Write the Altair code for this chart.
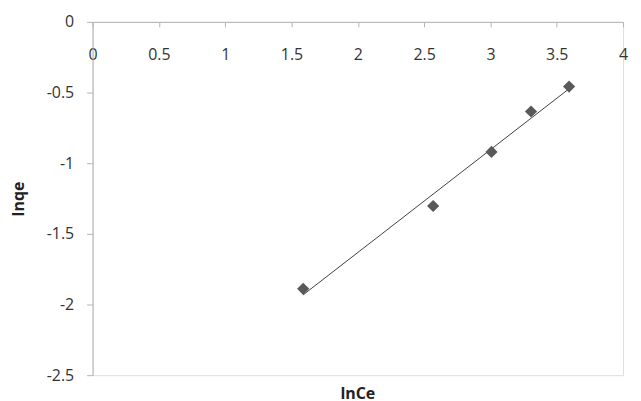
import altair as alt
import pandas as pd

lnCe = [1.588, 2.568, 3.008, 3.306, 3.593]
lnqe = [-1.889, -1.303, -0.920, -0.634, -0.458]

df = pd.DataFrame({"lnCe": lnCe, "lnqe": lnqe})

FONT = "Open Sans"
AX = "#b3b3b3"
W, H = 533, 355

xscale = alt.Scale(domain=[0, 4], nice=False, zero=False)
yscale = alt.Scale(domain=[-2.5, 0], nice=False, zero=False)

xaxis = alt.Axis(
    orient="bottom", offset=-H, values=[0, 0.5, 1, 1.5, 2, 2.5, 3, 3.5, 4],
    labelExpr="datum.value", grid=False, domainColor=AX, tickColor=AX,
    tickSize=5, labelPadding=20, labelFont=FONT, labelFontSize=16,
    labelColor="#333333", title=None, labelFlush=False,
)
yaxis = alt.Axis(
    values=[-2.5, -2, -1.5, -1, -0.5, 0], labelExpr="datum.value", grid=False,
    domainColor=AX, tickColor=AX, tickSize=6, labelPadding=13,
    labelFont=FONT, labelFontSize=16, labelColor="#333333",
    title="lnqe", titleFont=FONT, titleFontSize=16, titleFontWeight="bold",
    titleColor="#222222", titlePadding=20,
)

points = alt.Chart(df).mark_point(
    shape="diamond", filled=True, size=150, color="#595959", opacity=1
).encode(
    x=alt.X("lnCe:Q", scale=xscale, axis=xaxis),
    y=alt.Y("lnqe:Q", scale=yscale, axis=yaxis),
)

trend = alt.Chart(df).transform_regression("lnCe", "lnqe").mark_line(
    color="#404040", strokeWidth=1
).encode(
    x=alt.X("lnCe:Q", scale=xscale),
    y=alt.Y("lnqe:Q", scale=yscale),
)

chart = alt.layer(trend, points).properties(
    width=W, height=H,
    title=alt.TitleParams(
        "lnCe", orient="bottom", anchor="middle", offset=3,
        font=FONT, fontSize=16, fontWeight="bold", color="#222222",
    ),
    autosize=alt.AutoSizeParams(type="none"),
    padding={"left": 85, "top": 13, "right": 10, "bottom": 27},
).configure_view(stroke=None).configure(background="white")

chart.save("out.html", embed_options={"renderer": "svg", "actions": False})
